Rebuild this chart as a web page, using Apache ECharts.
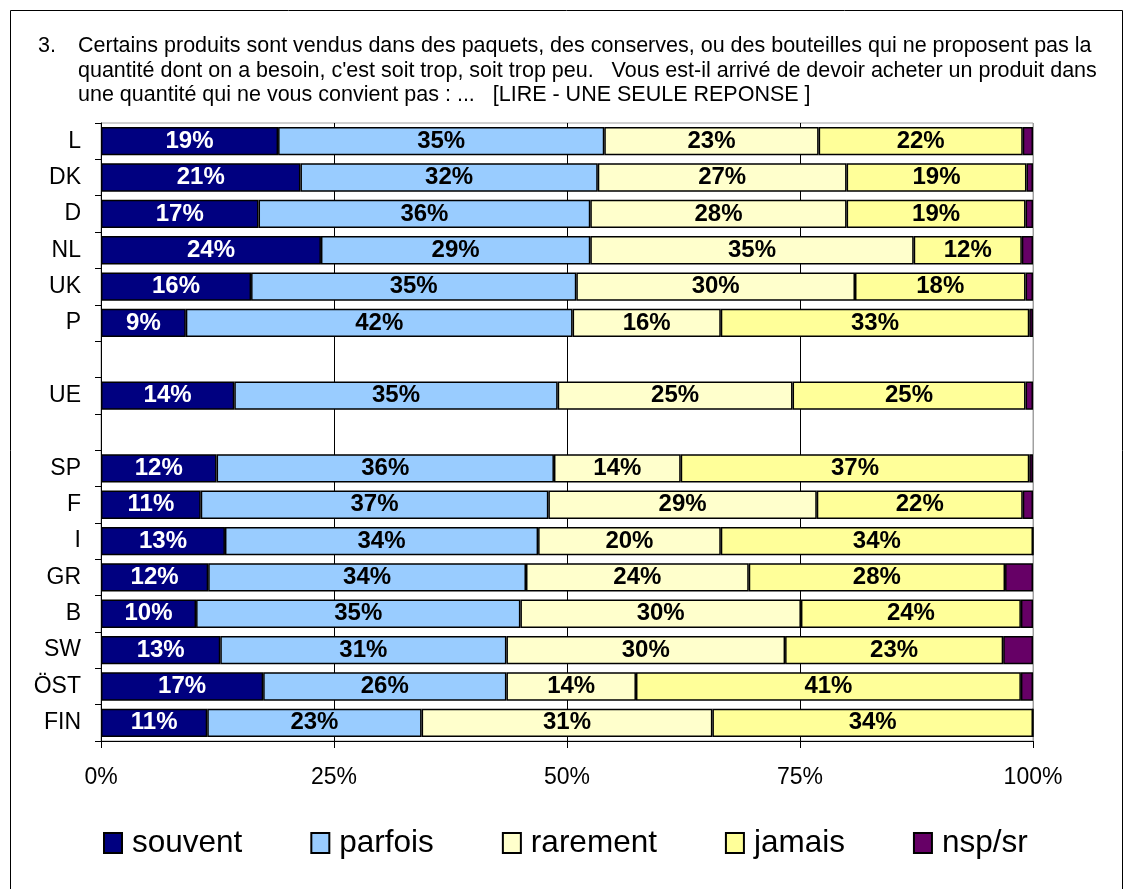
<!DOCTYPE html>
<html>
<head>
<meta charset="utf-8">
<script src="https://cdn.jsdelivr.net/npm/echarts@6/dist/echarts.min.js"></script>
<style>
  html, body { margin: 0; padding: 0; background: #fff; }
  #chart { width: 1133px; height: 889px; }
</style>
</head>
<body>
<div id="chart"></div>
<script>
// pays (lignes vides = séparateurs)
const categories = ['L', 'DK', 'D', 'NL', 'UK', 'P', ' ', 'UE', '  ', 'SP', 'F', 'I', 'GR', 'B', 'SW', 'ÖST', 'FIN'];

// valeurs (%)
const souvent  = [19.0, 21.4, 16.9, 23.6, 16.1,  9.1, null, 14.3, null, 12.4, 10.7, 13.3, 11.5, 10.2, 12.8, 17.4, 11.4];
const parfois  = [35.0, 31.9, 35.6, 28.9, 34.9, 41.5, null, 34.7, null, 36.2, 37.3, 33.6, 34.1, 34.8, 30.7, 26.1, 23.0];
const rarement = [23.0, 26.7, 27.5, 34.7, 29.9, 15.9, null, 25.2, null, 13.6, 28.8, 19.6, 23.9, 30.1, 29.9, 13.9, 31.2];
const jamais   = [21.9, 19.3, 19.2, 11.6, 18.3, 33.1, null, 25.0, null, 37.4, 22.1, 33.5, 27.5, 23.6, 23.4, 41.3, 34.4];
const nspsr    = [ 1.1,  0.7,  0.8,  1.2,  0.8,  0.4, null,  0.8, null,  0.4,  1.1,  0.0,  3.0,  1.3,  3.2,  1.3,  0.0];

const titleText = "Certains produits sont vendus dans des paquets, des conserves, ou des bouteilles qui ne proposent pas la\n" +
    "quantité dont on a besoin, c'est soit trop, soit trop peu.   Vous est-il arrivé de devoir acheter un produit dans\n" +
    "une quantité qui ne vous convient pas : ...   [LIRE - UNE SEULE REPONSE ]";

const FONT = 'Arial, "Liberation Sans", sans-serif';

function makeSeries(name, data, color, labelColor, showLabel) {
    return {
        name: name,
        type: 'bar',
        stack: 'total',
        barWidth: '78%',
        data: data,
        itemStyle: { color: color, borderColor: '#000', borderWidth: 1.5 },
        label: {
            show: showLabel,
            position: 'inside',
            color: labelColor,
            fontFamily: FONT,
            fontWeight: 'bold',
            fontSize: 24,
            formatter: function (p) {
                if (p.value == null) return '';
                return Math.round(p.value) + '%';
            }
        }
    };
}

const chart = echarts.init(document.getElementById('chart'));
chart.setOption({
    animation: false,
    backgroundColor: '#fff',
    title: [
        {
            text: '3.',
            left: 33, top: 29,
            textStyle: { fontFamily: FONT, fontSize: 21.5, fontWeight: 'normal', color: '#000', lineHeight: 24.5 }
        },
        {
            text: titleText,
            left: 73, top: 29,
            textStyle: { fontFamily: FONT, fontSize: 21.5, fontWeight: 'normal', color: '#000', lineHeight: 24.5 }
        }
    ],
    graphic: [{
        type: 'rect',
        shape: { x: 10.5, y: 10.5, width: 1112, height: 900 },
        style: { fill: 'none', stroke: '#000', lineWidth: 1 },
        silent: true
    }],
    legend: {
        left: 98, top: 822,
        itemWidth: 18, itemHeight: 20,
        itemGap: 68,
        icon: 'rect',
        textStyle: { fontFamily: FONT, fontSize: 31.5, color: '#000', padding: [0, 0, 0, 5] }
    },
    grid: {
        left: 101, right: 100, top: 123, bottom: 148,
        show: true, borderColor: '#a0a0a0', borderWidth: 1
    },
    xAxis: {
        type: 'value',
        min: 0, max: 100, interval: 25,
        axisLine: { show: true, lineStyle: { color: '#000', width: 1 } },
        axisTick: { show: true, length: 7, lineStyle: { color: '#000' } },
        axisLabel: { formatter: '{value}%', fontFamily: FONT, fontSize: 23, color: '#000', margin: 25 },
        splitLine: { show: true, lineStyle: { color: ['#000', '#000', '#000', '#000', '#a0a0a0'], width: 1 } }
    },
    yAxis: {
        type: 'category',
        data: categories,
        inverse: true,
        axisLine: { show: true, lineStyle: { color: '#000', width: 1 } },
        axisTick: { show: true, length: 6, lineStyle: { color: '#000' } },
        axisLabel: { fontFamily: FONT, fontSize: 23, color: '#000', margin: 20 }
    },
    series: [
        makeSeries('souvent', souvent, '#000080', '#fff', true),
        makeSeries('parfois', parfois, '#99ccff', '#000', true),
        makeSeries('rarement', rarement, '#ffffcc', '#000', true),
        makeSeries('jamais', jamais, '#ffff99', '#000', true),
        makeSeries('nsp/sr', nspsr, '#660066', '#000', false)
    ]
});
</script>
</body>
</html>
